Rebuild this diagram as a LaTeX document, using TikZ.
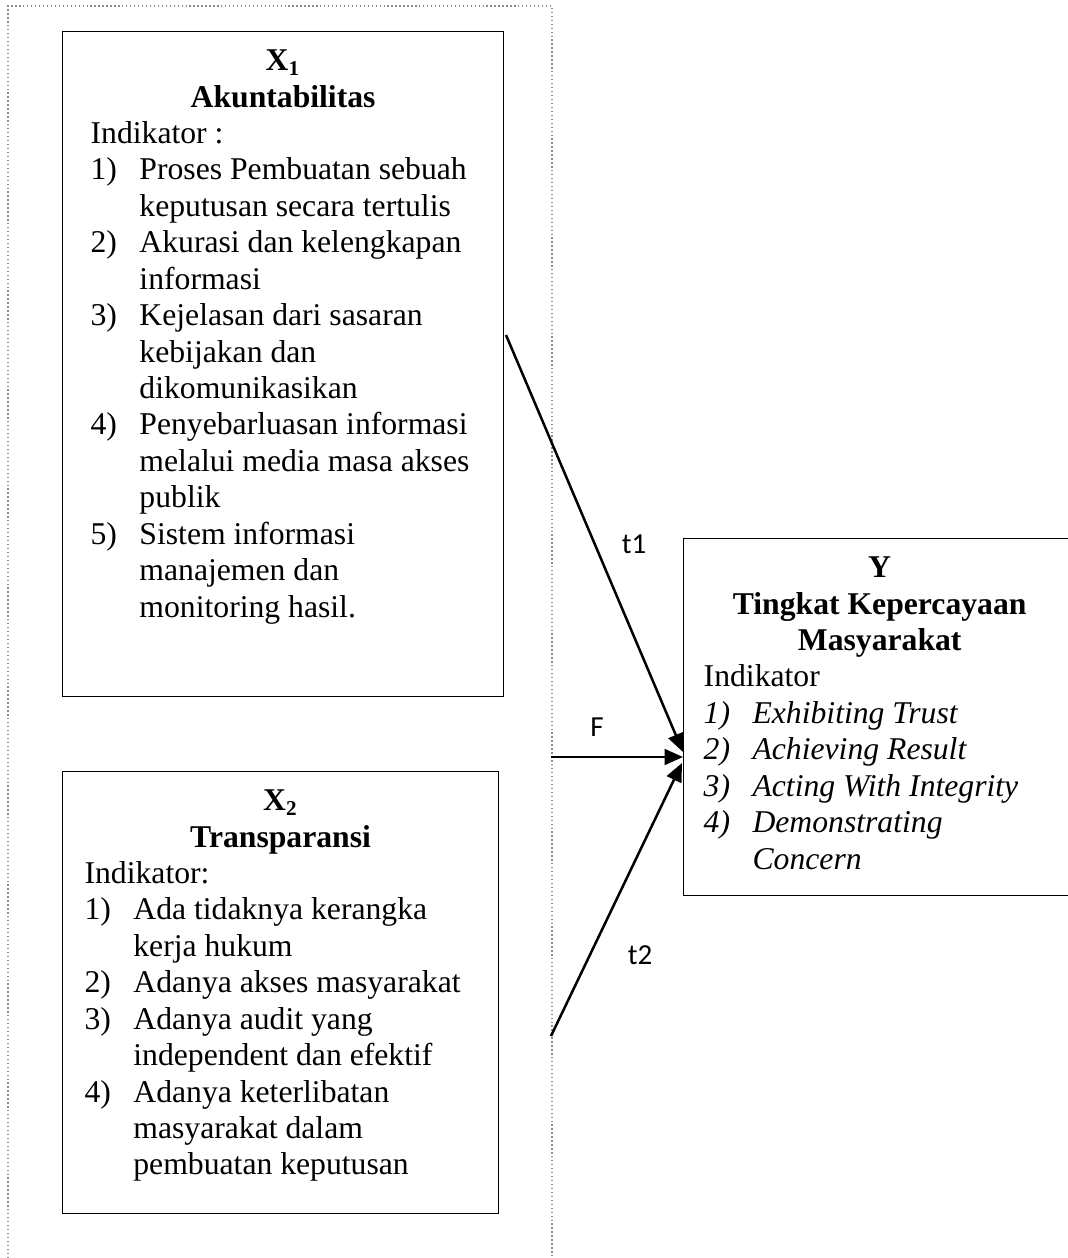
\documentclass[tikz,border=0pt]{standalone}
\usepackage{fontspec}
\setmainfont{Liberation Serif}
\newfontfamily\labelfont{Carlito}
\definecolor{ink}{HTML}{000000}
\definecolor{frame}{HTML}{8A8A8A}
\usetikzlibrary{arrows.meta,positioning,calc}
\newcommand{\butir}[2]{\par\hangindent=18.5pt\hangafter=1\noindent\makebox[18.5pt][l]{#1}#2\par}
\newcommand{\judul}[1]{{\centering\bfseries\strut#1\par}}

\begin{document}
\begin{tikzpicture}[x=0.3788pt,y=-0.3788pt,every node/.style={font=\fontsize{12}{13.8}\selectfont}]
\tikzstyle{kotak}=[draw=ink,line width=0.5pt,anchor=north west,inner ysep=5.1pt]
\tikzstyle{panah}=[-{Triangle[length=7pt,width=6pt]},ink,line width=0.95pt]
\tikzstyle{lbl}=[font=\labelfont\fontsize{11}{13}\selectfont,inner sep=1pt]
\useasboundingbox (0,0) rectangle (1067,1258);
% batas variabel bebas
\draw[frame,densely dotted,line width=0.5pt] (8,1258) -- (8,6) -- (552,6) -- (552,1258);
% kotak variabel
\node[kotak,inner xsep=10.6pt] (X1) at (62,31) {\parbox[t][241.7pt][t]{145.8pt}{%
\judul{X\textsubscript{1}\\Akuntabilitas}
\raggedright Indikator :
\butir{1)}{Proses Pembuatan sebuah\newline keputusan secara tertulis}
\butir{2)}{Akurasi dan kelengkapan\newline informasi}
\butir{3)}{Kejelasan dari sasaran\newline kebijakan dan\newline dikomunikasikan}
\butir{4)}{Penyebarluasan informasi\newline melalui media masa akses\newline publik}
\butir{5)}{Sistem informasi\newline manajemen dan\newline monitoring hasil.}}};
\node[kotak,inner xsep=8.3pt] (X2) at (62,771) {\parbox[t][157.2pt][t]{148.5pt}{%
\judul{X\textsubscript{2}\\Transparansi}
\raggedright Indikator:
\butir{1)}{Ada tidaknya kerangka\newline kerja hukum}
\butir{2)}{Adanya akses masyarakat}
\butir{3)}{Adanya audit yang\newline independent dan efektif}
\butir{4)}{Adanya keterlibatan\newline masyarakat dalam\newline pembuatan keputusan}}};
\node[kotak,inner xsep=7.6pt] (Y) at (683,538) {\parbox[t][125pt][t]{133.3pt}{%
\judul{Y\\Tingkat Kepercayaan\\Masyarakat}
\raggedright Indikator
\itshape
\butir{1)}{Exhibiting Trust}
\butir{2)}{Achieving Result}
\butir{3)}{Acting With Integrity}
\butir{4)}{Demonstrating\newline Concern}}};
% pangkal panah
\coordinate (a1) at (506,335);
\coordinate (aF) at (551,757);
\coordinate (a2) at (551,1036);
\coordinate (b1) at ($(Y.north west)+(0,214)$);
\coordinate (bF) at ($(Y.north west)+(0,219)$);
\coordinate (b2) at ($(Y.north west)+(-1,225)$);
\draw[panah] (a1) -- (b1);
\draw[panah] (aF) -- (bF);
\draw[panah] (a2) -- (b2);
\node[lbl] (t1) at (634,544) {t1};
\node[lbl] (F) at (597,727) {F};
\node[lbl] (t2) at (640,955) {t2};
\end{tikzpicture}
\end{document}
